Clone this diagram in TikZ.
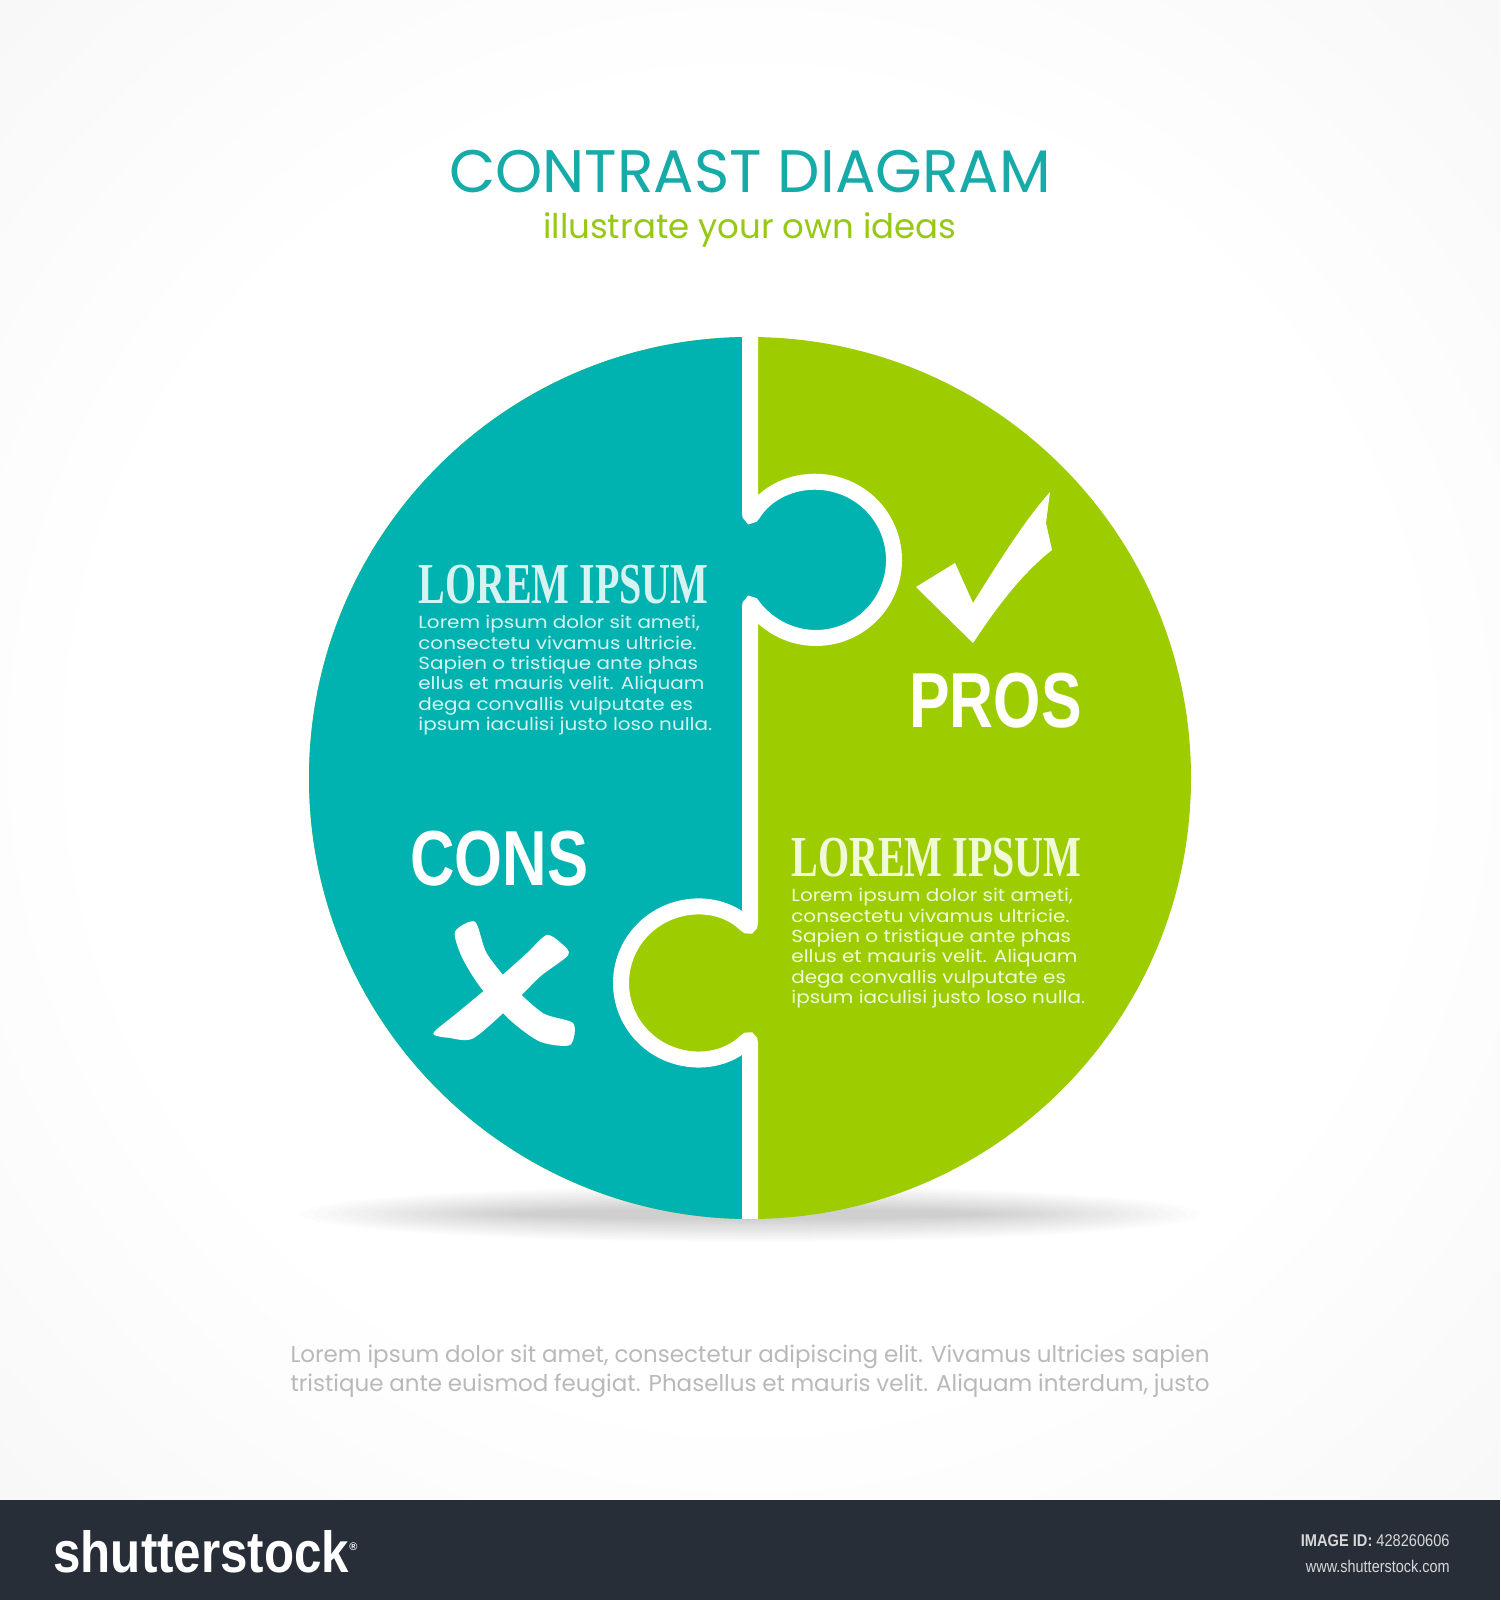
\documentclass[tikz,border=0pt]{standalone}
\usepackage{fontspec}
\usepackage{graphicx}
\setmainfont{Poppins}
\newfontfamily\headfont{Liberation Serif}
\newfontfamily\heavyfont{Liberation Sans}
\definecolor{tealc}{RGB}{0,178,176}
\definecolor{greenc}{RGB}{157,205,0}
\definecolor{titlec}{RGB}{22,170,168}
\definecolor{subc}{RGB}{150,200,20}
\definecolor{tealtext}{RGB}{214,243,241}
\definecolor{greentext}{RGB}{240,250,215}
\definecolor{footc}{RGB}{185,185,185}
\definecolor{bgmid}{RGB}{242,242,242}
\definecolor{bgc}{RGB}{226,226,226}
\definecolor{barc}{RGB}{40,46,56}
\definecolor{idc}{RGB}{215,215,215}

\pgfdeclareradialshading{bgshade}{\pgfpoint{0bp}{0bp}}{color(0bp)=(white); color(22bp)=(white); color(46bp)=(bgmid); color(71bp)=(bgc)}

\tikzset{every picture/.style={line width=0.75pt}}
\tikzset{
  bodytext/.style={anchor=north west, inner sep=0pt, font=\fontsize{17.5}{20.4}\selectfont},
  bigword/.style={anchor=base west, inner sep=0pt, text=white, font=\heavyfont\bfseries\fontsize{78}{80}\selectfont},
  headword/.style={anchor=base west, inner sep=0pt, font=\headfont\bfseries\fontsize{58}{60}\selectfont}
}
\newcommand{\loremblock}{\scalebox{1.14}[1]{\begin{tabular}{@{}l@{}}Lorem ipsum dolor sit ameti,\\consectetu vivamus ultricie.\\Sapien o tristique ante phas\\ellus et mauris velit. Aliquam\\dega convallis vulputate es\\ipsum iaculisi justo loso nulla.\end{tabular}}}

\begin{document}
\begin{tikzpicture}[x=1pt,y=1pt,yscale=-1,xscale=1]
\useasboundingbox (0,0) rectangle (1500,1600);

%Shape: Background
\shade [shading=bgshade] (0,0) rectangle (1500,1500);
%Shape: Bottom bar
\fill [barc] (0,1500) rectangle (1500,1600);

%Shape: Shadow under the circle
\foreach \i in {0,...,15}
  \fill [black, opacity=0.012] (750,1214) ellipse ({450-\i*14} and {28-\i*1.5});

%Shape: Circle split in two puzzle halves
\begin{scope}
\clip (750,778) circle (441);
\fill [greenc] (300,330) rectangle (1200,1230);
\fill [tealc] (750,300) -- (750,518.4) arc [start angle=-147.8, end angle=147.8, radius=78]
  -- (750,928.5) arc [start angle=-45.8, end angle=-314.2, radius=76]
  -- (750,1250) -- (300,1250) -- (300,300) -- cycle;
\draw [white, line width=16, rounded corners=6] (750,300) -- (750,518.4) arc [start angle=-147.8, end angle=147.8, radius=78]
  -- (750,928.5) arc [start angle=-45.8, end angle=-314.2, radius=76]
  -- (750,1250);
\end{scope}

%Shape: Check mark
\fill [white] (916,587) -- (955,563) -- (973,603) .. controls (1000,560) and (1025,520) .. (1050,492)
  -- (1046,523) -- (1052,550) .. controls (1020,575) and (995,610) .. (973,643) -- cycle;

%Shape: Cross mark
\fill [white] plot [smooth cycle, tension=0.45] coordinates {(546.7,935) (562,944) (568.3,955) (540,976.7) (510,1006.7) (473.3,1038.3) (450,1038) (433.3,1033.3) (456.7,1013.3) (496.7,980) (526.7,953.3)};
\fill [white] plot [smooth cycle, tension=0.45] coordinates {(455,931.7) (475,921.7) (486.7,953.3) (513.3,986.7) (543.3,1013.3) (573.3,1023.3) (570,1045) (540,1041.7) (510,1020) (480,986.7) (461.7,956.7)};

% Text Node
\node (title) [anchor=base, inner sep=0pt, text=titlec, font=\fontsize{60}{66}\selectfont] at (750,192) {CONTRAST DIAGRAM};
% Text Node
\node (subtitle) [anchor=base, inner sep=0pt, text=subc, font=\fontsize{34}{40}\selectfont] at (750,238) {illustrate your own ideas};

% Text Node
\node (lefthead) [headword, text=tealtext] at (418,603) {\scalebox{0.69}[1]{LOREM IPSUM}};
% Text Node
\node (leftbody) [bodytext, text=tealtext] at (418,614) {\loremblock};

% Text Node
\node (righthead) [headword, text=greentext] at (791,876) {\scalebox{0.69}[1]{LOREM IPSUM}};
% Text Node
\node (rightbody) [bodytext, text=greentext] at (791,887) {\loremblock};

% Text Node
\node (pros) [bigword] at (909,727) {\scalebox{0.78}[1]{PROS}};
% Text Node
\node (cons) [bigword] at (410,885) {\scalebox{0.79}[1]{CONS}};

% Text Node
\node (footone) [anchor=base, inner sep=0pt, text=footc, font=\fontsize{23}{28}\selectfont] at (750,1362) {\makebox[919pt][s]{Lorem ipsum dolor sit amet, consectetur adipiscing elit. Vivamus ultricies sapien}};
% Text Node
\node (foottwo) [anchor=base, inner sep=0pt, text=footc, font=\fontsize{23}{28}\selectfont] at (750,1391) {\makebox[919pt][s]{tristique ante euismod feugiat. Phasellus et mauris velit. Aliquam interdum, justo}};

% Text Node
\node (logo) [anchor=base west, inner sep=0pt, text=white, font=\heavyfont\bfseries\fontsize{58}{60}\selectfont] at (53,1572) {\scalebox{0.85}[1]{shutterstock}\raisebox{22pt}{\fontsize{11}{11}\selectfont\textregistered}};
% Text Node
\node (imageid) [anchor=base east, inner sep=0pt, text=idc, font=\heavyfont\fontsize{17}{18}\selectfont] at (1450,1546) {\scalebox{0.86}[1]{\textbf{IMAGE ID:} 428260606}};
% Text Node
\node (site) [anchor=base east, inner sep=0pt, text=idc, font=\heavyfont\fontsize{17}{18}\selectfont] at (1450,1572) {\scalebox{0.85}[1]{www.shutterstock.com}};
\end{tikzpicture}
\end{document}
